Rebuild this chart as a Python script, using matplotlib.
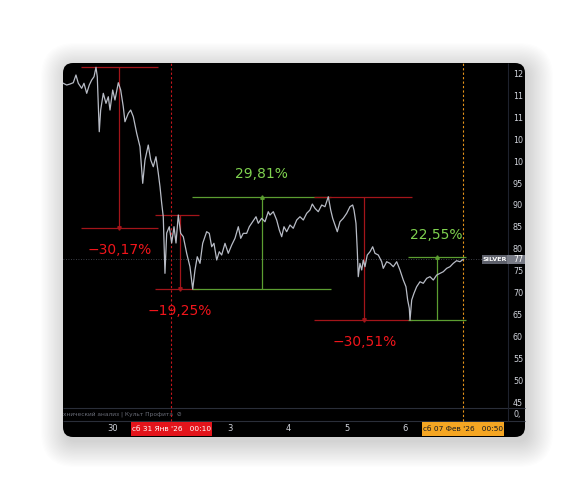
import matplotlib.pyplot as plt
from matplotlib.patches import FancyBboxPatch, Rectangle
from matplotlib.transforms import blended_transform_factory

# время в днях от 30 янв (1 = 31 янв, 2..6 = 3..7 фев), цена серебра
t = [-0.851, -0.793, -0.736, -0.680, -0.634, -0.594, -0.536, -0.497, -0.450, -0.406,
     -0.365, -0.325, -0.291, -0.269, -0.235, -0.211, -0.166, -0.120, -0.080, -0.051,
     -0.005, 0.034, 0.091, 0.132, 0.176, 0.205, 0.262, 0.303, 0.348, 0.406,
     0.462, 0.509, 0.548, 0.604, 0.646, 0.690, 0.736, 0.776, 0.805, 0.834,
     0.861, 0.890, 0.920, 0.964, 1.005, 1.045, 1.079, 1.118, 1.159, 1.204,
     1.262, 1.318, 1.365, 1.404, 1.443, 1.490, 1.536, 1.575, 1.604, 1.649,
     1.690, 1.729, 1.776, 1.820, 1.861, 1.918, 1.974, 2.033, 2.089, 2.146,
     2.187, 2.231, 2.289, 2.334, 2.392, 2.449, 2.488, 2.546, 2.603, 2.659,
     2.688, 2.745, 2.803, 2.848, 2.889, 2.928, 2.974, 3.031, 3.087, 3.146,
     3.202, 3.259, 3.317, 3.373, 3.413, 3.459, 3.515, 3.574, 3.630, 3.687,
     3.728, 3.762, 3.801, 3.841, 3.887, 3.943, 4.002, 4.058, 4.104, 4.127,
     4.161, 4.183, 4.200, 4.229, 4.259, 4.286, 4.315, 4.354, 4.401, 4.447,
     4.486, 4.543, 4.601, 4.628, 4.687, 4.743, 4.800, 4.858, 4.914, 4.971,
     5.017, 5.046, 5.074, 5.086, 5.115, 5.154, 5.200, 5.257, 5.313, 5.372,
     5.428, 5.485, 5.543, 5.599, 5.656, 5.714, 5.771, 5.827, 5.884, 5.942, 5.998]
price = [118.0, 117.6, 117.83, 118.13, 119.89, 118.0, 116.85, 118.0, 115.71, 117.6,
         118.74, 119.5, 121.64, 119.5, 106.94, 111.89, 115.71, 113.42, 114.93, 111.89,
         116.46, 114.18, 118.13, 116.46, 112.65, 109.22, 111.14, 111.89, 110.37, 106.58,
         103.52, 95.16, 100.48, 103.9, 100.48, 98.95, 101.23, 97.44, 94.38, 90.59,
         87.53, 74.61, 83.81, 85.25, 81.53, 85.25, 81.53, 87.92, 83.74, 82.97,
         79.18, 76.12, 71.0, 75.37, 78.4, 76.89, 81.46, 82.97, 84.11, 83.74,
         80.68, 81.46, 77.65, 79.54, 78.79, 81.46, 79.18, 81.07, 82.6, 85.25,
         82.6, 83.74, 83.74, 85.25, 86.39, 87.53, 86.03, 87.17, 86.39, 88.68,
         87.92, 88.68, 86.78, 84.5, 82.97, 85.25, 84.11, 85.64, 84.89, 86.78,
         87.53, 86.78, 88.31, 89.06, 90.43, 89.45, 88.68, 90.21, 89.82, 92.1,
         89.06, 87.17, 85.64, 84.11, 86.39, 87.17, 88.31, 89.82, 90.21, 89.06,
         86.03, 79.93, 73.84, 76.89, 75.37, 77.65, 76.12, 78.79, 79.54, 80.68,
         79.18, 78.79, 77.26, 75.75, 77.26, 76.89, 76.12, 77.26, 75.37, 73.08,
         71.55, 68.52, 66.62, 63.9, 68.52, 70.05, 71.55, 72.69, 72.33, 73.47,
         73.84, 73.08, 74.22, 74.61, 74.98, 75.75, 76.12, 76.89, 77.49, 77.26, 77.8]

y_ticks = list(range(45, 125, 5))
day_pos = [0, 2, 3, 4, 5]
day_lbl = ['30', '3', '4', '5', '6']
mark_pos = [1, 6]
mark_lbl = ["сб 31 Янв '26   00:10", "сб 07 Фев '26   00:50"]

# замеры (ценовой диапазон): вертикаль, от / до, края полок, подпись
m_x = [0.108, 1.149, 2.546, 4.303, 5.543]
m_from = [121.64, 87.92, 71.0, 92.1, 63.9]
m_to = [84.9, 71.0, 92.1, 63.9, 78.3]
m_x0 = [-0.548, 0.72, 1.348, 3.442, 5.057]
m_x1 = [0.771, 1.478, 3.728, 5.12, 6.04]
m_txt = ['−30,17%', '−19,25%', '29,81%', '−30,51%', '22,55%']

W, H = 585, 500
fig = plt.figure(figsize=(W / 100, H / 100), dpi=100, facecolor='white')

# подложка в пикселях: тень и тёмная панель
bg = fig.add_axes([0, 0, 1, 1])
bg.set_xlim(0, W)
bg.set_ylim(H, 0)
bg.axis('off')
for k in range(22):
    p = k * 1.2
    bg.add_patch(FancyBboxPatch((66, 68), 462, 374,
                                boxstyle=f'round,pad={p},rounding_size={10 + p}',
                                fc='black', ec='none', alpha=0.009))
bg.add_patch(FancyBboxPatch((63, 63), 462, 374, boxstyle='round,pad=0,rounding_size=10',
                            fc='black', ec='none'))
bg.hlines([408, 421], 63, 525, color='#2a2e39', lw=0.8)
bg.vlines(508, 63, 421, color='#1e222d', lw=0.8)
# подписи обрезаны краем панели, как на скриншоте
bg.text(63, 414, 'хнический анализ | Культ Профита  ⊘', fontsize=4.2,
        color='#6a6d78', va='center')
bg.text(513, 414, '0,', fontsize=5.8, color='#d1d4dc', va='center')

ax = fig.add_axes([63 / W, 92 / H, 444 / W, 345 / H], zorder=2)
ax.patch.set_alpha(0)
for s in ax.spines.values():
    s.set_visible(False)
ax.set_xlim(-0.856, 6.747)
ax.set_ylim(43.86, 122.63)
ax.set_yticks([])
ax.set_xticks(day_pos, day_lbl)
ax.tick_params(axis='x', length=0, pad=11.5, labelsize=6, labelcolor='#d1d4dc')

ty = ax.get_yaxis_transform()
for v in y_ticks:
    ax.text(1.0135, v, str(v)[:2], transform=ty, fontsize=5.8, color='#d1d4dc',
            va='center', clip_on=False)

# пунктирные вертикали и линия текущей цены
ax.axvline(mark_pos[0], ymin=-13 / 345, ymax=1, color='#c8161d', ls=(0, (2, 2)),
           lw=0.8, clip_on=False)
ax.axvline(mark_pos[1], ymin=-13 / 345, ymax=1, color='#e8941a', ls=(0, (2, 2)),
           lw=0.8, clip_on=False)
ax.axhline(price[-1], color='#50535e', ls=(0, (1, 2)), lw=0.6)

ax.plot(t, price, color='#b8bcc6', lw=0.9, zorder=3)

for xv, a, b, x0, x1, s in zip(m_x, m_from, m_to, m_x0, m_x1, m_txt):
    fall = b < a
    col_l = '#a3151a' if fall else '#5c9e31'
    col_t = '#f0151b' if fall else '#7fd24f'
    ax.hlines([a, b], x0, x1, colors=col_l, lw=0.9, zorder=2)
    ax.vlines(xv, min(a, b), max(a, b), colors=col_l, lw=0.9, zorder=2)
    ax.plot(xv, b, marker='v' if fall else '^', ms=2.5, color=col_l, zorder=2)
    ax.annotate(s, (xv, b), xytext=(0, -16 if fall else 16), textcoords='offset points',
                ha='center', va='center', color=col_t, fontsize=10)

# плашки дат на шкале времени
tb = blended_transform_factory(ax.transData, ax.transAxes)
for xm, s, fc, tc in zip(mark_pos, mark_lbl, ['#e3141b', '#f5a623'], ['white', '#131722']):
    ax.add_patch(Rectangle((xm - 0.70, -0.0812), 1.40, 0.0406, transform=tb,
                           fc=fc, ec='none', clip_on=False))
    ax.text(xm, -0.0609, s, transform=tb, ha='center', va='center', fontsize=5.3,
            color=tc, clip_on=False)

# метка инструмента справа
tp = blended_transform_factory(ax.transAxes, ax.transData)
ax.add_patch(Rectangle((0.9437, price[-1] - 1.03), 0.0563, 2.06, transform=tp,
                       fc='#5d606b', ec='none', clip_on=False))
ax.add_patch(Rectangle((1.0, price[-1] - 1.03), 0.0405, 2.06, transform=tp,
                       fc='#787b86', ec='none', clip_on=False))
ax.text(0.972, price[-1], 'SILVER', transform=tp, ha='center', va='center',
        fontsize=4.6, color='white', fontweight='bold')
ax.text(1.0135, price[-1], str(int(price[-1])), transform=tp,
        va='center', fontsize=5.8, color='white')

fig.savefig('out.png', dpi=100, facecolor='white')
